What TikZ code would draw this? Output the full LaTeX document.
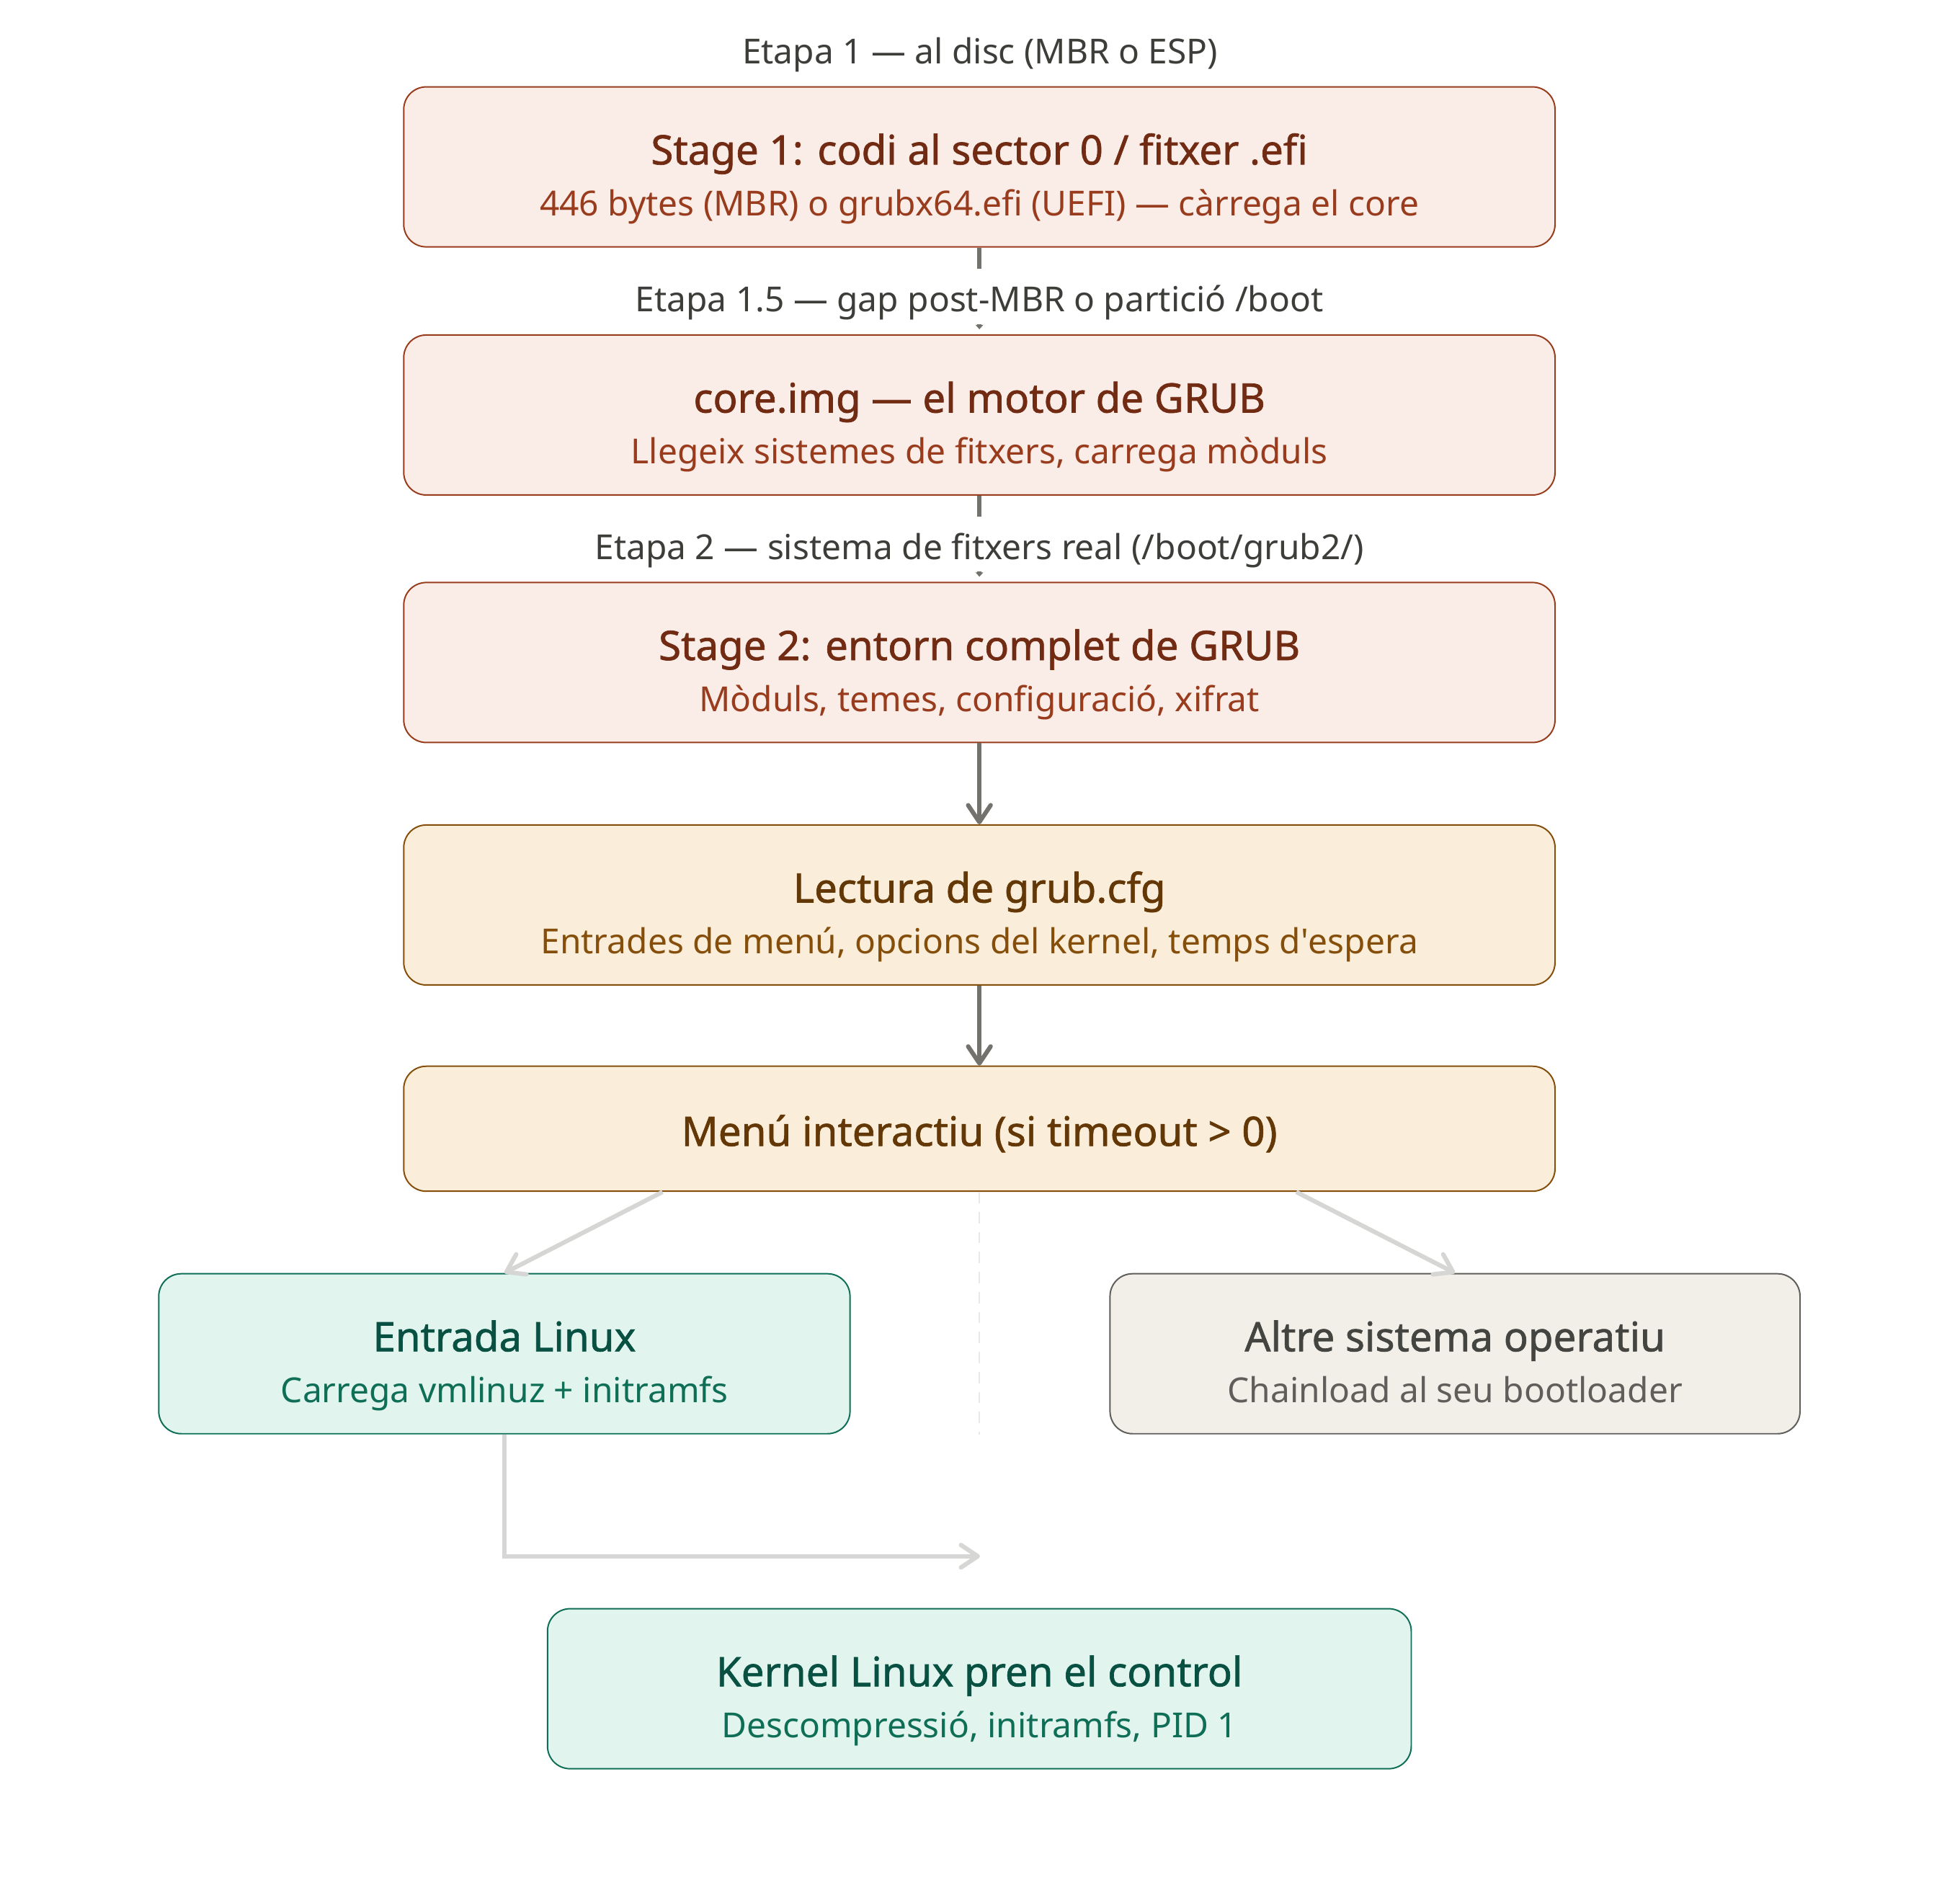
\documentclass[tikz,border=0pt]{standalone}
\usepackage{fontspec}
\setmainfont{Noto Sans}
\newfontfamily\semibf{Noto Sans}[FakeBold=1.2]
\usetikzlibrary{arrows.meta, positioning}

\definecolor{redfill}{HTML}{FAECE7}
\definecolor{redline}{HTML}{993C1D}
\definecolor{redtitle}{HTML}{712B13}
\definecolor{redsub}{HTML}{993C1D}
\definecolor{amberfill}{HTML}{FAEEDA}
\definecolor{amberline}{HTML}{854F0B}
\definecolor{ambertitle}{HTML}{633806}
\definecolor{ambersub}{HTML}{854F0B}
\definecolor{greenfill}{HTML}{E1F5EE}
\definecolor{greenline}{HTML}{0F6E56}
\definecolor{greentitle}{HTML}{085041}
\definecolor{greensub}{HTML}{0F6E56}
\definecolor{grayfill}{HTML}{F1EFE8}
\definecolor{grayline}{HTML}{5F5E5A}
\definecolor{graytitle}{HTML}{444441}
\definecolor{graysub}{HTML}{5F5E5A}
\definecolor{labeltext}{HTML}{3D3D3A}
\definecolor{darkline}{HTML}{73726C}
\definecolor{softline}{HTML}{D6D6D4}
\definecolor{dashgray}{HTML}{E8E8E8}

\newcommand{\ttlfont}{\semibf\fontsize{18.5}{23.3}\selectfont}
\newcommand{\subfont}{\normalfont\fontsize{15.7}{23.3}\selectfont}

\begin{document}
\begin{tikzpicture}[
    box/.style={rectangle, draw=#1line, fill=#1fill, text=#1title, line width=0.65pt, rounded corners=0.36cm, minimum width=18.42cm, minimum height=2.56cm, align=center, font=\ttlfont},
    twoline/.style={text height=1.56cm, text depth=0cm},
    oneline/.style={text height=0.55cm, text depth=0cm},
    stagelabel/.style={font=\subfont, text=labeltext, fill=white, inner sep=1pt, text height=0.645cm, text depth=0.165cm},
    arrow/.style={-{Straight Barb[length=0.27cm, width=0.36cm, round]}, line width=2pt, draw=darkline},
    thinarrow/.style={-{Triangle[length=0.07cm, width=0.12cm]}, line width=2pt, draw=darkline, shorten >=0.08cm},
    softarrow/.style={-{Straight Barb[length=0.27cm, width=0.36cm, round]}, line width=2pt, draw=softline},
    dashline/.style={draw=dashgray, line width=0.65pt, dash pattern=on 0.18cm off 0.14cm},
]
\useasboundingbox (0, 0) rectangle (31.36, -30.44);

% Boot stages
\node[stagelabel, fill=none] (lbl1) at (15.68, -0.78) {Etapa 1 — al disc (MBR o ESP)};
\node[box=red, twoline] (s1) at (15.67, -2.67) {Stage 1: codi al sector 0 / fitxer .efi\\{\subfont\color{redsub}446 bytes (MBR) o grubx64.efi (UEFI) — càrrega el core}};
\node[box=red, twoline] (s2) at (15.67, -6.64) {core.img — el motor de GRUB\\{\subfont\color{redsub}Llegeix sistemes de fitxers, carrega mòduls}};
\node[box=red, twoline] (s3) at (15.67, -10.6) {Stage 2: entorn complet de GRUB\\{\subfont\color{redsub}Mòduls, temes, configuració, xifrat}};

% Configuration and menu
\node[box=amber, twoline] (cfg) at (15.67, -14.48) {Lectura de grub.cfg\\{\subfont\color{ambersub}Entrades de menú, opcions del kernel, temps d\textquotesingle espera}};
\node[box=amber, oneline, minimum height=2cm] (menu) at (15.67, -18.06) {Menú interactiu (si timeout > 0)};

% Choices
\node[box=green, twoline, minimum width=11.06cm] (linux) at (8.07, -21.66) {Entrada Linux\\{\subfont\color{greensub}Carrega vmlinuz + initramfs}};
\node[box=gray, twoline, minimum width=11.04cm] (other) at (23.28, -21.66) {Altre sistema operatiu\\{\subfont\color{graysub}Chainload al seu bootloader}};
\node[box=green, twoline, minimum width=13.82cm] (kernel) at (15.67, -27.02) {Kernel Linux pren el control\\{\subfont\color{greensub}Descompressió, initramfs, PID 1}};

% Connections
\draw[thinarrow] (s1) -- node[stagelabel, pos=0.563]{Etapa 1.5 — gap post-MBR o partició /boot} (s2);
\draw[thinarrow] (s2) -- node[stagelabel, pos=0.563]{Etapa 2 — sistema de fitxers real (/boot/grub2/)} (s3);
\draw[arrow] (s3) -- (cfg);
\draw[arrow] (cfg) -- (menu);

\draw[softarrow] ([xshift=-5.07cm]menu.south) -- (linux.north);
\draw[softarrow] ([xshift=5.07cm]menu.south) -- (other.north);
\coordinate (split) at (menu.south |- linux.south);
\draw[dashline] (menu.south) -- (split);
\coordinate (merge) at (15.68, -24.9);
\draw[softarrow] (linux.south) |- (merge);

\end{tikzpicture}
\end{document}
